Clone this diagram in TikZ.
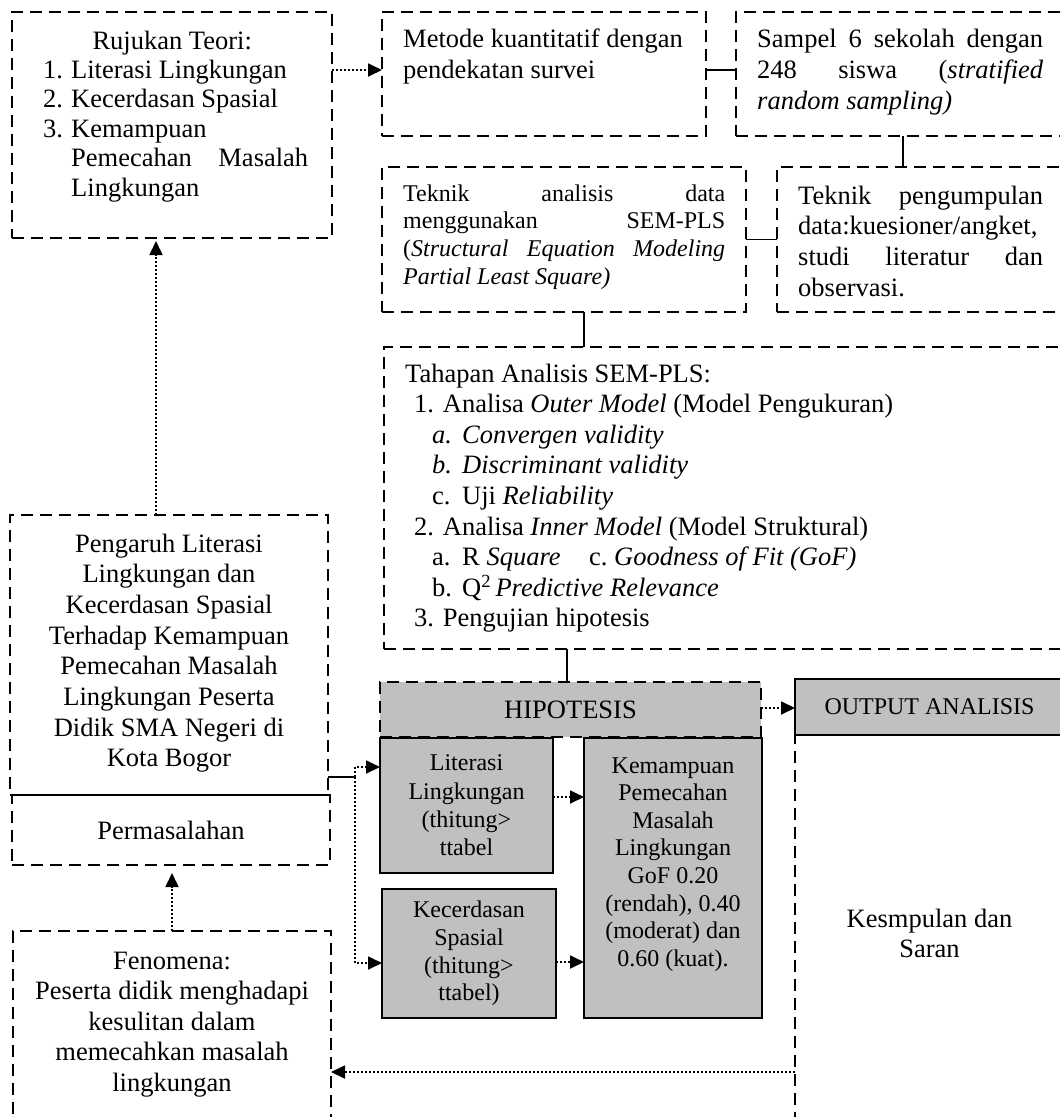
\documentclass[tikz,border=0pt]{standalone}
\usepackage{fontspec}
\setmainfont{Liberation Serif}
\usetikzlibrary{arrows.meta,calc}
\definecolor{hgray}{RGB}{192,192,192}
\tikzset{
  dbox/.style={draw, line width=1.8pt, dash pattern=on 12pt off 7pt, inner sep=0pt, outer sep=0pt, anchor=north west},
  gbox/.style={draw, line width=1.6pt, fill=hgray, inner sep=0pt, outer sep=0pt, anchor=north west},
  ghead/.style={gbox, dash pattern=on 12pt off 7pt},
  conn/.style={line width=1.8pt},
  darrow/.style={line width=1.8pt, dash pattern=on 2pt off 2pt, -{Triangle[length=14pt,width=13pt]}},
  fA/.style={font=\fontsize{26.5}{30.6}\selectfont},
  fB/.style={font=\fontsize{24}{27.7}\selectfont},
  tl/.style={inner sep=0pt, anchor=base west, align=flush left},
  tc/.style={inner sep=0pt, anchor=base, align=flush center},
}
\newcommand{\jline}[2]{\makebox[#1][l]{#2}}
\begin{document}
\begin{tikzpicture}[x=1pt,y=-1pt]
\useasboundingbox (0,0) rectangle (1060,1117);
\fill[white] (0,0) rectangle (1060,1117);
\clip (0,0) rectangle (1060,1117);

% ---------- boxes ----------
\node[dbox, minimum width=320pt, minimum height=226pt] (rujuk) at (12,12) {};
\node[dbox, minimum width=324pt, minimum height=124pt] (metode) at (382,12) {};
\node[dbox, minimum width=328pt, minimum height=124pt] (sampel) at (736,12) {};
\node[dbox, minimum width=364pt, minimum height=145pt] (analisis) at (382,167) {};
\node[dbox, minimum width=287pt, minimum height=145pt] (kumpul) at (777,167) {};
\node[dbox, minimum width=680pt, minimum height=302pt] (sem) at (384,347) {};
\node[dbox, minimum width=318pt, minimum height=280pt] (pengaruh) at (10,515) {};
\node[dbox, minimum width=318pt, minimum height=70pt, fA] (masalah) at (12,795) {Permasalahan};
\node[dbox, minimum width=318pt, minimum height=200pt] (fenomena) at (13,931) {};
\node[dbox, minimum width=269pt, minimum height=396pt, align=flush center,
      font=\fontsize{26.5}{30}\selectfont] (kesimp) at (795,735) {Kesmpulan dan\\Saran};
\node[gbox, minimum width=269pt, minimum height=56pt, fB] (output) at (795,679) {OUTPUT ANALISIS};
\node[gbox, minimum width=173pt, minimum height=135pt, align=flush center,
      font=\fontsize{24}{28.3}\selectfont] (literasi) at (380,738) {Literasi\\Lingkungan\\(thitung>\\ttabel};
\node[gbox, minimum width=174pt, minimum height=129pt, align=flush center,
      font=\fontsize{24}{27.7}\selectfont] (kecerd) at (382,889) {Kecerdasan\\Spasial\\(thitung>\\ttabel)};
\node[gbox, minimum width=178pt, minimum height=280pt] (kemamp) at (584,738) {};
\node[ghead, minimum width=381pt, minimum height=55pt, fA] (hipo) at (380,682) {HIPOTESIS};

% ---------- texts ----------
\node[tl, text width=265pt, font=\fontsize{26.5}{29.4}\selectfont] (rujukT) at (43,49) {%
\makebox[265pt][c]{\hspace*{-7pt}Rujukan Teori:}\\
\makebox[28pt][l]{1.}Literasi Lingkungan\\
\makebox[28pt][l]{2.}Kecerdasan Spasial\\
\makebox[28pt][l]{3.}Kemampuan\\
\hspace*{28pt}\jline{237pt}{Pemecahan\hfill Masalah}\\
\hspace*{28pt}Lingkungan};

\node[tl, text width=290pt, font=\fontsize{26.5}{31}\selectfont] (metodeT) at (403,47) {%
Metode kuantitatif dengan\\pendekatan survei};

\node[tl, text width=286pt, font=\fontsize{26.5}{31}\selectfont] (sampelT) at (757,47) {%
\jline{286pt}{Sampel\hfill 6\hfill sekolah\hfill dengan}\\
\jline{286pt}{248\hfill siswa\hfill (\textit{stratified}}\\
\textit{random sampling)}};

\node[tl, text width=322pt, fB] (analisisT) at (403,201) {%
\jline{322pt}{Teknik\hfill analisis\hfill data}\\
\jline{322pt}{menggunakan\hfill SEM-PLS}\\
\jline{322pt}{(\textit{Structural\hfill Equation\hfill Modeling}}\\
\textit{Partial Least Square)}};

\node[tl, text width=245pt, font=\fontsize{26.5}{30.7}\selectfont] (kumpulT) at (798,204) {%
\jline{245pt}{Teknik\hfill pengumpulan}\\
data:kuesioner/angket,\\
\jline{245pt}{studi\hfill literatur\hfill dan}\\
observasi.};

\node[tl, text width=640pt, fA] (semT) at (405,382) {%
Tahapan Analisis SEM-PLS:\\
\hspace*{9pt}1. Analisa \textit{Outer Model} (Model Pengukuran)\\
\hspace*{27pt}\makebox[30pt][l]{\textit{a.}}\textit{Convergen validity}\\
\hspace*{27pt}\makebox[30pt][l]{\textit{b.}}\textit{Discriminant validity}\\
\hspace*{27pt}\makebox[30pt][l]{c.}Uji \textit{Reliability}\\
\hspace*{9pt}2. Analisa \textit{Inner Model} (Model Struktural)\\
\hspace*{27pt}\makebox[30pt][l]{a.}\makebox[127pt][l]{R \textit{Square}}\makebox[25pt][l]{c.}\textit{Goodness of Fit (GoF)}\\
\hspace*{27pt}\makebox[30pt][l]{b.}Q\textsuperscript{2}\,\textit{Predictive Relevance}\\
\hspace*{9pt}3. Pengujian hipotesis};

\node[tc, text width=310pt, font=\fontsize{26.5}{30.7}\selectfont] (pengaruhT) at (169,552) {%
Pengaruh Literasi\\Lingkungan dan\\Kecerdasan Spasial\\Terhadap Kemampuan\\Pemecahan Masalah\\Lingkungan Peserta\\Didik SMA Negeri di\\Kota Bogor};

\node[tc, text width=176pt, font=\fontsize{24}{27.6}\selectfont] (kemampT) at (673,773) {%
Kemampuan\\Pemecahan\\Masalah\\Lingkungan\\GoF 0.20\\(rendah), 0.40\\(moderat) dan\\0.60 (kuat).};

\node[tc, text width=310pt, font=\fontsize{26.5}{30.5}\selectfont] (fenomenaT) at (172,969) {%
Fenomena:\\Peserta didik menghadapi\\kesulitan dalam\\memecahkan masalah\\lingkungan};

% ---------- connectors ----------
\draw[darrow] ([yshift=55pt]rujuk.east) -- ([yshift=4pt]metode.west);
\draw[conn] ([yshift=4pt]metode.east) -- ([yshift=4pt]sampel.west);
\draw[conn] ([xshift=3pt]sampel.south) -- ([xshift=3pt]sampel.south |- kumpul.north);
\draw[conn] (analisis.east) -- (kumpul.west);
\draw[conn] ([xshift=20pt]analisis.south) -- ([xshift=20pt]analisis.south |- sem.north);
\draw[conn] ([xshift=-3.5pt]hipo.north) -- ([xshift=-3.5pt]hipo.north |- sem.south);
\draw[darrow] ([yshift=1.5pt]hipo.east) -- ([yshift=1.5pt]hipo.east -| output.west);
\draw[darrow] ([yshift=8.5pt]literasi.east) -- ([yshift=8.5pt]literasi.east -| kemamp.west);
\draw[darrow] ([yshift=-8.5pt]kecerd.east) -- ([yshift=-8.5pt]kecerd.east -| kemamp.west);
\draw[darrow, shorten >=3pt] ([xshift=-13pt]pengaruh.north) -- ([xshift=-13pt]pengaruh.north |- rujuk.south);
\coordinate (J) at (355,777);
\draw[conn] ([yshift=-122pt]pengaruh.east) -- (J);
\draw[darrow] (J) |- ([yshift=38.5pt]literasi.west);
\draw[darrow] (J) |- ([yshift=-9.5pt]kecerd.west);
\draw[darrow, shorten >=8pt] (fenomena.north) -- (fenomena.north |- masalah.south);
\draw[darrow] ([yshift=-139pt]kesimp.west) -- ([yshift=-139pt]kesimp.west -| fenomena.east);
\end{tikzpicture}
\end{document}
